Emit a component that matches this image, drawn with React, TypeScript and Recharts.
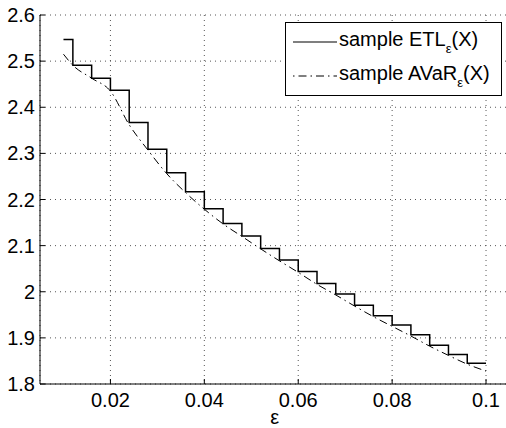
import React from 'react';
import { LineChart, Line, XAxis, YAxis, CartesianGrid, Legend } from 'recharts';

const EPSILON = [0.010, 0.012, 0.016, 0.020, 0.024, 0.028, 0.032, 0.036, 0.040, 0.044, 0.048, 0.052, 0.056, 0.060, 0.064, 0.068, 0.072, 0.076, 0.080, 0.084, 0.088, 0.092, 0.096, 0.100];
const ETL = [2.547, 2.491, 2.463, 2.437, 2.367, 2.309, 2.258, 2.217, 2.180, 2.148, 2.121, 2.094, 2.069, 2.044, 2.018, 1.995, 1.971, 1.948, 1.928, 1.907, 1.884, 1.864, 1.845, 1.845];
const AVAR = [2.515, 2.491, 2.463, 2.435, 2.362, 2.307, 2.256, 2.215, 2.179, 2.147, 2.120, 2.093, 2.067, 2.042, 2.016, 1.993, 1.969, 1.946, 1.925, 1.904, 1.882, 1.862, 1.843, 1.828];
const X_TICKS = [0.02, 0.04, 0.06, 0.08, 0.1];
const Y_TICKS = [1.8, 1.9, 2.0, 2.1, 2.2, 2.3, 2.4, 2.5, 2.6];
const X_LABEL = 'ε';

const data = EPSILON.map((e, i) => ({ eps: e, etl: ETL[i], avar: AVAR[i] }));

const FONT = '"Liberation Sans", Arial, Helvetica, sans-serif';

const LegendBox = () => (
  <svg width={217} height={74} style={{ display: 'block', fontFamily: FONT }}>
    <rect x={0.5} y={0.5} width={216} height={73} fill="#fff" stroke="#000" strokeWidth={1} />
    <line x1={8} x2={52} y1={20} y2={20} stroke="#000" strokeWidth={1.2} />
    <text x={54} y={24} fontSize={20} fill="#000">
      sample ETL<tspan fontSize={13} dy={7}>ε</tspan>
      <tspan fontSize={20} dy={-7}>(X)</tspan>
    </text>
    <line x1={8} x2={52} y1={54} y2={54} stroke="#000" strokeWidth={1} strokeDasharray="1.5 4 8 4" />
    <text x={54} y={58} fontSize={20} fill="#000">
      sample AVaR<tspan fontSize={13} dy={7}>ε</tspan>
      <tspan fontSize={20} dy={-7}>(X)</tspan>
    </text>
  </svg>
);

export default function App() {
  return (
    <div style={{ position: 'absolute', left: 0, top: 0, width: 506, height: 428, overflow: 'hidden', background: '#fff' }}>
      <LineChart width={520} height={428} data={data} margin={{ top: 15, right: 10.5, left: 0, bottom: 0 }}>
        <CartesianGrid stroke="#555" strokeDasharray="1 4" />
        <XAxis
          dataKey="eps"
          type="number"
          domain={[0.005, 0.105]}
          ticks={X_TICKS}
          interval={0}
          allowDataOverflow
          height={44}
          tickSize={-5}
          tickMargin={14}
          stroke="#000"
          tick={{ fontSize: 20, fill: '#000', fontFamily: FONT }}
          label={{ value: X_LABEL, position: 'insideBottom', offset: 4, fontSize: 20, fill: '#000', fontFamily: FONT }}
        />
        <XAxis
          xAxisId="top"
          orientation="top"
          dataKey="eps"
          type="number"
          domain={[0.005, 0.105]}
          ticks={X_TICKS}
          interval={0}
          allowDataOverflow
          height={0}
          tickSize={-5}
          stroke="#000"
          tick={false}
        />
        <YAxis
          type="number"
          domain={[1.8, 2.6]}
          ticks={Y_TICKS}
          interval={0}
          allowDataOverflow
          width={40}
          tickSize={-5}
          tickMargin={10}
          stroke="#000"
          tick={{ fontSize: 20, fill: '#000', fontFamily: FONT }}
        />
        <Legend
          layout="vertical"
          align="center"
          verticalAlign="middle"
          wrapperStyle={{ position: 'absolute', left: 285, top: 22, width: 217, height: 74 }}
          content={() => <LegendBox />}
        />
        <Line dataKey="etl" name="sample ETL" type="stepAfter" stroke="#000" strokeWidth={1.5} dot={false} isAnimationActive={false} />
        <Line dataKey="avar" name="sample AVaR" type="monotone" stroke="#000" strokeWidth={1} strokeDasharray="8 4 1.5 4" dot={false} isAnimationActive={false} />
      </LineChart>
    </div>
  );
}
